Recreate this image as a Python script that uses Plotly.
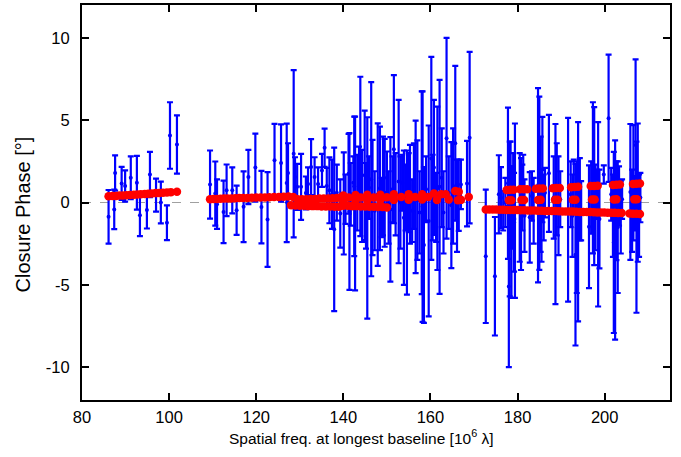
import plotly.graph_objects as go

# ---------------- data: measured closure phases (blue, with 1-sigma errors) ----------------
x_g1 = [86.1, 87.4, 87.6, 89.1, 89.9, 91.2, 92.6, 93.3, 94.9, 95.6, 97.0, 98.1, 99.5, 100.2, 101.8]
y_g1 = [-0.87, -0.42, 1.79, 1.16, 1.0, 1.5, 1.2, -0.77, -0.45, 1.7, 0.45, 0.0, -1.23, 4.07, 3.52]
e_g1 = [1.63, 1.2, 1.07, 1.0, 0.95, 1.3, 1.63, 1.27, 1.13, 1.38, 1.0, 1.27, 1.05, 2.02, 1.77]

x_g2 = [109.4, 110.6, 111.0, 112.5, 113.2, 114.5, 115.5, 117.1, 118.2, 119.8, 121.2, 122.6, 124.2, 125.7,
        127.0, 127.3, 128.6, 128.9, 129.4, 130.3, 131.4, 131.9, 132.6, 133.4, 134.2, 135.1, 135.7, 136.2,
        136.8, 137.4, 137.9, 138.5, 139.3]
y_g2 = [1.09, 0.54, -0.1, -0.57, 0.74, 0.74, -0.47, -0.26, 1.55, 2.12, -0.28, -1.03, 2.56, 2.4,
        1.19, 1.8, 2.96, 1.55, 0.95, 0.95, 0.58, 1.13, 2.15, 1.55, 1.13, 1.95, 3.33, 1.0,
        0.74, 0.5, -1.63, 0.6, -0.67]
e_g2 = [2.07, 1.95, 1.5, 1.9, 1.57, 1.4, 1.5, 2.15, 1.65, 2.07, 2.2, 2.88, 2.22, 2.35,
        3.6, 1.8, 5.08, 1.2, 1.4, 2.0, 1.0, 1.0, 1.7, 1.2, 1.0, 1.0, 1.16, 1.1,
        2.0, 2.1, 4.97, 1.7, 2.07]

x_g3 = [140.1, 140.5, 141.2, 141.4, 141.7, 142.3, 142.5, 142.7, 143.2, 143.6,
        143.9, 144.3, 144.9, 145.2, 145.5, 145.9, 146.4, 146.7, 147.2, 147.9,
        148.4, 148.8, 149.1, 149.5, 150.0, 150.4, 150.8, 151.3, 151.6, 152.0,
        152.7, 153.1, 153.5, 153.9, 154.3, 154.6, 155.0, 155.3, 155.8, 156.2,
        156.6, 157.0, 157.5, 158.0, 158.2, 158.5, 159.0, 159.6, 160.2, 160.5,
        160.8, 161.3, 161.6, 162.1, 162.6, 163.0, 163.7, 164.2, 164.8, 165.2,
        165.7, 166.1, 166.5, 167.0, 168.4, 169.0]
y_g3 = [-0.06, 0.2, 1.75, -0.55, 0.5, 1.2, 0.98, -0.06, 0.6, 1.6,
        2.8, 0.4, 1.65, -0.2, -0.94, 0.9, 1.42, 0.3, -0.5, 0.48,
        0.86, -0.3, 1.0, 0.59, 1.5, -0.3, -0.42, 0.8, 3.24, 0.5,
        1.27, 0.0, 1.2, -0.92, 0.3, -1.22, 0.6, 0.5, -0.5, 1.0,
        0.34, 0.14, -0.6, 0.59, -0.25, -2.58, 0.8, -1.12, 2.68, 0.3,
        2.13, -0.3, 0.86, 0.95, 1.5, -0.6, 3.9, 0.6, -0.16, 1.0,
        3.6, -0.2, 0.44, 1.1, 1.15, 3.94]
e_g3 = [3.1, 1.5, 2.42, 4.76, 1.9, 1.6, 4.24, 5.28, 2.3, 1.8,
        4.84, 2.8, 3.93, 2.6, 6.12, 1.9, 5.9, 3.5, 2.4, 4.33,
        3.75, 1.8, 3.0, 3.28, 1.6, 2.2, 4.39, 2.0, 4.5, 2.5,
        4.96, 2.8, 1.7, 4.08, 2.0, 4.38, 2.4, 3.0, 1.9, 2.6,
        4.63, 3.63, 2.5, 6.16, 7.0, 4.73, 2.0, 5.8, 6.17, 2.6,
        4.1, 2.1, 4.96, 6.5, 3.0, 2.5, 6.1, 2.2, 3.83, 3.5,
        4.7, 2.8, 2.16, 1.5, 2.6, 5.21]

x_g4 = [172.7, 174.8, 175.7, 176.2, 176.7, 177.2, 177.8, 178.0, 178.2, 178.4,
        178.6, 178.8, 179.0, 179.2, 179.4, 180.5, 180.8, 181.1, 181.3, 181.6,
        182.8, 183.3, 183.7, 184.7, 185.0, 185.3, 185.5, 185.7, 186.0, 186.3,
        187.2, 188.3, 188.7, 189.0, 189.4, 189.8, 191.6, 192.2, 192.6, 192.9,
        193.3, 193.6, 193.9, 194.3, 194.6, 196.4, 196.9, 197.3, 197.6, 197.9,
        198.2, 198.5, 198.8, 199.8, 200.9, 201.5, 201.9, 202.1, 202.4, 202.7,
        203.0, 203.3, 203.7, 204.0, 205.9, 206.3, 206.6, 206.9, 207.1, 207.3,
        207.6, 207.9, 208.2]
y_g4 = [-3.27, -4.48, 0.5, 0.29, -0.5, 0.0, 1.17, -5.1, -1.0, 0.5,
        -1.8, -0.3, 1.0, -1.2, -0.5, -0.3, -0.7, 0.3, 1.2, -0.8,
        -0.9, 0.4, -0.5, 1.05, 1.17, 0.5, -0.8, 2.0, -0.3, 0.6,
        1.77, 0.3, -0.7, 0.8, -0.2, 0.2, -0.44, 0.5, -0.8, 1.0,
        -3.17, -1.5, -1.17, 0.2, -0.5, -1.47, 0.3, 1.5, 1.0, -0.3,
        0.5, -0.72, -1.0, 1.7, 5.12, 0.5, -0.8, -2.43, -2.28, -0.5,
        -1.5, 0.4, -0.9, 0.2, 0.64, -0.5, 1.2, 0.0, 3.5, -1.5,
        0.6, -0.8, 0.3]
e_g4 = [4.05, 3.6, 2.37, 1.86, 1.2, 1.5, 4.6, 4.9, 4.7, 3.2,
        4.0, 2.5, 2.0, 3.0, 5.3, 3.3, 3.4, 2.0, 1.7, 2.2,
        2.75, 1.5, 2.0, 5.9, 5.26, 3.5, 2.8, 3.2, 2.0, 1.5,
        3.55, 2.5, 5.47, 2.8, 3.0, 1.7, 5.58, 2.0, 2.5, 1.6,
        5.52, 4.0, 6.05, 2.5, 1.8, 3.73, 2.2, 4.59, 4.8, 2.6,
        1.5, 5.6, 3.0, 0.55, 3.87, 1.6, 2.5, 5.5, 6.05, 3.0,
        4.0, 1.8, 2.2, 1.2, 4.13, 2.5, 3.5, 1.6, 5.2, 5.2,
        4.2, 2.5, 1.5]

# ---------------- data: model closure phases (red) ----------------
mx_1 = [86.1, 87.0, 87.8, 88.6, 89.4, 90.2, 91.0, 91.9, 92.7, 93.5, 94.4, 95.2, 96.0, 96.9, 97.7,
        98.6, 99.5, 100.4, 101.8]
my_1 = [0.38, 0.39, 0.40, 0.42, 0.43, 0.44, 0.46, 0.47, 0.49, 0.50, 0.52, 0.53, 0.55, 0.57, 0.58,
        0.60, 0.61, 0.63, 0.66]

mx_2 = [109.4, 110.2, 111.0, 111.8, 112.6, 113.4, 114.3, 115.2, 116.1, 117.0, 118.0, 119.0, 120.0,
        121.0, 122.0, 123.0, 124.1, 125.2, 126.3, 127.4]
my_2 = [0.20, 0.21, 0.22, 0.23, 0.24, 0.24, 0.25, 0.26, 0.27, 0.27, 0.28, 0.29, 0.30,
        0.31, 0.31, 0.32, 0.33, 0.34, 0.35, 0.36]

mx_3a = [128.5, 129.5, 130.5, 131.5, 132.5, 133.5, 134.5, 135.5, 136.5, 137.5, 138.5, 139.4,
         140.0, 140.0, 141.2, 142.8, 142.8, 144.0, 145.5, 145.5, 147.0, 148.5, 148.5, 150.0,
         151.6, 151.6, 153.3, 155.0, 155.0, 156.5, 158.1, 158.1, 159.5, 160.8, 161.5, 162.5,
         163.5, 164.2, 165.7, 166.3, 166.5, 167.0, 168.8]
my_3a = [0.34, 0.2, 0.2, 0.2, 0.22, 0.22, 0.24, 0.24, 0.25, 0.26, 0.28, 0.3,
         0.42, 0.14, 0.3, 0.45, 0.15, 0.3, 0.47, 0.15, 0.3, 0.47, 0.16, 0.32,
         0.5, 0.16, 0.33, 0.5, 0.17, 0.34, 0.5, 0.18, 0.34, 0.55, 0.15, 0.5,
         0.5, 0.18, 0.7, 0.14, 0.65, 0.16, 0.34]

mx_3b = [128.0, 129.0, 130.0, 131.0, 132.0, 133.0, 134.0, 135.0, 136.0, 137.0, 138.0, 139.0,
         140.0, 141.0, 142.0, 143.0, 144.0, 145.0, 146.0, 147.0, 148.0, 149.0, 150.0]
my_3b = [-0.16, -0.18, -0.2, -0.2, -0.22, -0.22, -0.22, -0.24, -0.24, -0.24, -0.26, -0.26,
         -0.2, -0.2, -0.22, -0.22, -0.24, -0.24, -0.26, -0.26, -0.28, -0.28, -0.3]

mx_4a = [177.5, 178.3, 179.1, 180.6, 181.4, 182.2, 184.2, 185.0, 185.8, 188.1, 188.9, 189.7,
         192.3, 193.1, 193.9, 196.8, 197.6, 198.4, 201.9, 202.7, 203.5, 206.5, 207.3, 208.1]
my_4a = [0.76, 0.77, 0.78, 0.80, 0.80, 0.81, 0.84, 0.85, 0.85, 0.87, 0.88, 0.88,
         0.93, 0.94, 0.95, 1.00, 1.01, 1.02, 1.07, 1.08, 1.09, 1.13, 1.14, 1.15]

mx_4b = [178.0, 178.6, 180.9, 181.5, 184.7, 185.3, 188.6, 189.2, 192.7, 193.3, 197.1, 197.7,
         202.1, 202.7, 206.8, 207.4]
my_4b = [0.14, 0.14, 0.15, 0.15, 0.15, 0.16, 0.16, 0.16, 0.17, 0.17, 0.18, 0.18,
         0.18, 0.19, 0.19, 0.20]

mx_4c = [172.7, 173.5, 174.3, 175.1, 175.9, 176.7, 177.5, 178.3, 179.1, 179.9, 180.7, 181.5,
         182.3, 183.1, 183.9, 184.7, 185.5, 186.3, 187.1, 187.9, 188.7, 189.5, 190.3, 191.1,
         191.9, 192.7, 193.5, 194.3, 195.1, 195.9, 196.7, 197.5, 198.3, 199.1, 199.9, 200.7,
         201.5, 202.3, 203.1, 203.9, 205.7, 206.5, 207.3, 208.1]
my_4c = [-0.42, -0.42, -0.43, -0.43, -0.44, -0.44, -0.45, -0.45, -0.46, -0.46, -0.47, -0.47,
         -0.48, -0.48, -0.49, -0.50, -0.50, -0.51, -0.51, -0.52, -0.52, -0.53, -0.54, -0.54,
         -0.55, -0.55, -0.56, -0.57, -0.57, -0.58, -0.58, -0.59, -0.60, -0.60, -0.61, -0.62,
         -0.62, -0.63, -0.64, -0.64, -0.67, -0.68, -0.69, -0.70]

x_tickvals = [80, 100, 120, 140, 160, 180, 200]
y_tickvals = [-10, -5, 0, 5, 10]
y_ticktext = ["-10", "-5", "0", "5", "10"]

for a, b, c in [(x_g1, y_g1, e_g1), (x_g2, y_g2, e_g2), (x_g3, y_g3, e_g3), (x_g4, y_g4, e_g4)]:
    assert len(a) == len(b) == len(c)
for a, b in [(mx_1, my_1), (mx_2, my_2), (mx_3a, my_3a), (mx_3b, my_3b), (mx_4a, my_4a),
             (mx_4b, my_4b), (mx_4c, my_4c)]:
    assert len(a) == len(b)

obs_x = x_g1 + x_g2 + x_g3 + x_g4
obs_y = y_g1 + y_g2 + y_g3 + y_g4
obs_e = e_g1 + e_g2 + e_g3 + e_g4
mod_x = mx_1 + mx_2 + mx_3a + mx_3b + mx_4a + mx_4b + mx_4c
mod_y = my_1 + my_2 + my_3a + my_3b + my_4a + my_4b + my_4c

FONT = "Liberation Sans, Arial, Helvetica, sans-serif"

fig = go.Figure()
fig.add_trace(go.Scatter(
    x=obs_x, y=obs_y, mode="markers",
    marker=dict(color="#0000ff", size=4),
    error_y=dict(type="data", array=obs_e, visible=True, color="#0000ff", thickness=2.2, width=3),
    showlegend=False, hoverinfo="skip"))
fig.add_trace(go.Scatter(
    x=mod_x, y=mod_y, mode="markers",
    marker=dict(color="#ff0000", size=8.5, line=dict(width=0)),
    showlegend=False, hoverinfo="skip"))

fig.add_shape(type="line", xref="paper", yref="y", x0=0, x1=1, y0=0, y1=0,
              line=dict(color="#a0a0a0", width=1, dash="dash"), layer="below")

axis_common = dict(showline=True, linecolor="black", linewidth=2, mirror="ticks",
                   ticks="inside", ticklen=7, tickwidth=1.5, tickcolor="black",
                   showgrid=False, zeroline=False, automargin=False,
                   tickfont=dict(family=FONT, size=16.5, color="black"))

fig.update_layout(
    width=681, height=457,
    margin=dict(l=82, r=11, t=5, b=57),
    paper_bgcolor="white", plot_bgcolor="white",
    xaxis=dict(range=[80, 215], tickvals=x_tickvals, ticklabelstandoff=1, **axis_common),
    yaxis=dict(range=[-12, 12], tickvals=y_tickvals, ticktext=y_ticktext,
               ticklabelstandoff=7, **axis_common),
    annotations=[
        dict(text="Spatial freq. at longest baseline [10<sup>6</sup> λ]", xref="paper", yref="paper",
             x=(361 - 82) / 588, y=(400 - 437) / 395, xanchor="center", yanchor="middle",
             showarrow=False, font=dict(family=FONT, size=15.5, color="black")),
        dict(text="Closure Phase [°]", xref="paper", yref="paper", textangle=-90,
             x=(23 - 82) / 588, y=(400 - 214.5) / 395, xanchor="center", yanchor="middle",
             showarrow=False, font=dict(family=FONT, size=20, color="black")),
    ],
)

fig.write_html("out.html", config={"displayModeBar": False},
               post_script="document.body.style.margin='0';document.body.style.padding='0';")
